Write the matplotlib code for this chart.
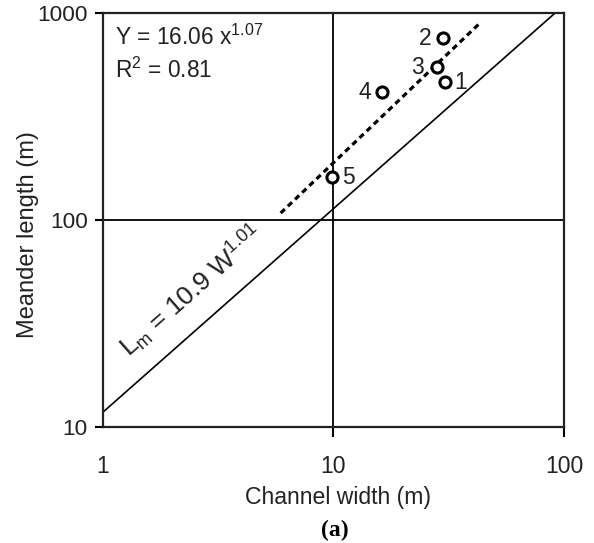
import matplotlib
matplotlib.use("Agg")
import matplotlib.pyplot as plt

plt.rcParams['font.family'] = ['Liberation Sans', 'DejaVu Sans']
plt.rcParams['mathtext.fontset'] = 'custom'
plt.rcParams['mathtext.rm'] = 'Liberation Sans'
plt.rcParams['mathtext.it'] = 'Liberation Sans:italic'

pt_labels = ['1', '2', '3', '4', '5']
width = [30.5, 29.9, 28.1, 16.2, 9.85]
length = [464, 757, 548, 415, 161]

# fitted line through the points (dashed) and reference relation (solid)
fit_x = [5.9, 43.0]
fit_y = [108, 890]
ref_x = [1.0, 91.5]
ref_y = [11.8, 1000]

fit_text = 'Y = 16.06 x$^{1.07}$'
r2_text = 'R$^{2}$ = 0.81'
ref_text = r'L$_{\mathregular{m}}$ = 10.9 W$^{1.01}$'

# label offsets in points (left/right of circle)
label_dx = [11, -13, -14, -12, 12]

fig = plt.figure(figsize=(5.94, 5.43), dpi=100)
ax = fig.add_axes([103/594, 1-427/543, 461/594, 414/543])

ax.set_xscale('log')
ax.set_yscale('log')
ax.set_xlim(1, 100)
ax.set_ylim(10, 1000)

ax.axvline(10, color='black', lw=1.3)
ax.axhline(100, color='black', lw=1.3)

ax.plot(ref_x, ref_y, color='black', lw=1.2)
ax.plot(fit_x, fit_y, color='black', lw=2.3, linestyle=(0, (1.8, 1.3)))
ax.plot(width, length, 'o', ms=8, mfc='white', mec='black', mew=2.2, zorder=5)

for lab, x, y, dx in zip(pt_labels, width, length, label_dx):
    ax.annotate(lab, (x, y), xytext=(dx, 0), textcoords='offset points',
                ha='center', va='center', fontsize=16.5, color='#222222')

ax.text(0.026, 0.923, fit_text, transform=ax.transAxes, fontsize=16.4, color='#222222')
ax.text(0.026, 0.843, r2_text, transform=ax.transAxes, fontsize=16.4, color='#222222')
ax.text(1.31, 21.5, ref_text, fontsize=19, rotation=41.4, rotation_mode='anchor',
        ha='left', va='baseline', color='#222222')

ax.set_xticks([1, 10, 100])
ax.set_xticklabels(['1', '10', '100'])
ax.set_yticks([10, 100, 1000])
ax.set_yticklabels(['10', '100', '1000'])
ax.minorticks_off()
ax.tick_params(axis='x', length=7, width=1.5, pad=13, labelsize=16.5, labelcolor='#222222')
ax.tick_params(axis='y', length=6, width=1.5, pad=5, labelsize=16.2, labelcolor='#222222')
ax.xaxis.get_major_ticks()[0].tick1line.set_visible(False)

for s in ax.spines.values():
    s.set_linewidth(1.6)
    s.set_color('#222222')

ax.set_xlabel('Channel width (m)', fontsize=16.6, color='#222222', va='center')
ax.xaxis.set_label_coords(0.51, -0.171)
ax.set_ylabel('Meander length (m)', fontsize=17, color='#222222', va='center')
ax.yaxis.set_label_coords(-0.163, 0.466)

fig.text(335/594, 1-530/543, '(a)', ha='center', va='center', fontsize=17,
         fontweight='bold', family='Liberation Serif')

fig.savefig('out.png', dpi=100)
